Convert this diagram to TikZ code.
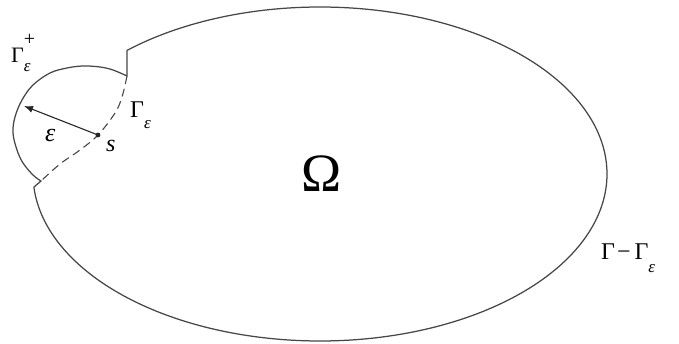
\documentclass[tikz,border=0pt]{standalone}
\usepackage{fontspec}
\setmainfont{Liberation Serif}
\newfontfamily\tms{Liberation Serif}
\usetikzlibrary{arrows.meta}
\begin{document}
\begin{tikzpicture}[x=1pt,y=-1pt,
  outline/.style={line width=1.25pt, draw=black!72, line join=round},
  dashline/.style={line width=1.1pt, draw=black!72, dash pattern=on 8pt off 5pt},
  lbl/.style={inner sep=0pt, anchor=base west, font=\tms},
  big/.style={font=\tms\fontsize{24}{26}\selectfont}]
\useasboundingbox (0,0) rectangle (679,344);
\coordinate (topA) at (127,50);
\coordinate (topB) at (127,76);
\coordinate (botA) at (41,181);
\coordinate (s) at (98,135);
\coordinate (tip) at (24,106);
% outer boundary
\draw[outline] plot[domain=-132.2:175.5, samples=240, variable=\t] ({320+287*cos(\t)},{174+167*sin(\t)})
  -- (botA) -- plot[smooth, tension=0.6] coordinates {(41,181) (33,175) (23,163) (17,150) (13,133) (15,117) (22,100) (33,85) (50,73) (67,68) (83,66) (100,67) (113,70) (127,76)} -- (topA);
% dashed part Gamma_eps
\draw[dashline] plot[smooth, tension=0.6] coordinates {(127,76) (122,97) (115,113) (98,135) (80,150) (60,164) (41,181)};
% radius arrow
\draw[line width=1.1pt, draw=black!85, -{Latex[length=9pt,width=7pt]}] (s) -- (tip);
\fill[black!85] (s) circle[radius=2.4pt];
% labels
\node[lbl] (gplus) at (11,63) {\tms\fontsize{22}{22}\selectfont Γ\rlap{\raisebox{17pt}{\fontsize{20}{20}\selectfont +}}\raisebox{-9pt}{\fontsize{17}{17}\selectfont\itshape ε}};
\node[lbl, big] (geps) at (130,118) {Γ\raisebox{-11pt}{\fontsize{17}{17}\selectfont\itshape ε}};
\node[lbl] (epsl) at (45,142) {\tms\fontsize{26}{26}\selectfont\itshape ε};
\node[lbl, big] (sl) at (106,152) {\itshape s};
\node[inner sep=0pt, anchor=base] (om) at (321.5,192) {\tms\fontsize{54}{54}\selectfont Ω};
\node[lbl, big] (gmg) at (601,260) {Γ\hspace{2pt}−\hspace{4pt}Γ\raisebox{-13pt}{\fontsize{17}{17}\selectfont\itshape ε}};
\end{tikzpicture}
\end{document}
